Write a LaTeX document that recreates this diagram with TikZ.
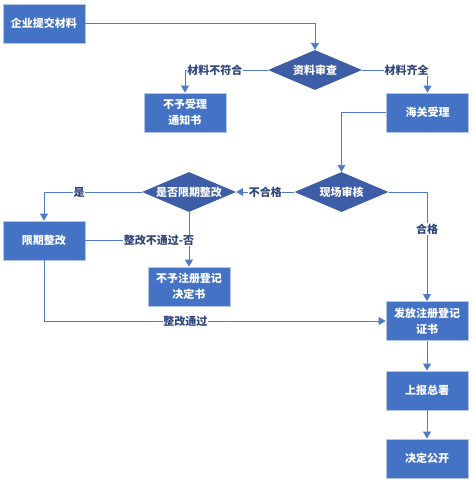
\documentclass[tikz,border=0pt]{standalone}
\usepackage{fontspec}
\setmainfont{Noto Sans CJK SC}
\usetikzlibrary{arrows.meta,shapes.geometric}
\definecolor{boxblue}{RGB}{68,114,196}
\definecolor{diablue}{RGB}{61,94,166}
\definecolor{edgeblue}{RGB}{180,199,231}
\definecolor{lineblue}{RGB}{79,122,199}
\definecolor{lblblue}{RGB}{47,70,122}
\tikzset{
    kasten/.style={
           rectangle,
           draw=edgeblue, fill=boxblue, line width=0.8pt,
           text=white, font=\fontsize{11}{16}\selectfont\bfseries,
           minimum width=82pt, minimum height=39pt,
           align=center, inner sep=2pt},
    raute/.style={
           diamond, aspect=2.35,
           fill=diablue, text=white,
           font=\fontsize{11}{16}\selectfont\bfseries,
           minimum width=94pt, minimum height=40pt, inner sep=0pt},
    linie/.style={draw=lineblue, line width=0.9pt},
    pfeil/.style={linie, -{Triangle[length=7pt,width=8pt]}},
    etikett/.style={fill=white, text=lblblue, inner sep=0.5pt,
           font=\fontsize{11}{13}\selectfont\bfseries}
    }
\begin{document}
\begin{tikzpicture}[x=1pt,y=-1pt]
      \useasboundingbox (0,0) rectangle (475,483);
      \node[kasten] (submit) at (44,23.5) {企业提交材料};
      \node[raute] (check) at (315,70) {资料审查};
      \node[kasten] (refuse) at (185,112.5) {不予受理\\通知书};
      \node[kasten] (accept) at (427.5,112.5) {海关受理};
      \node[raute] (site) at (341.5,192) {现场审核};
      \node[raute] (limit) at (189,192) {是否限期整改};
      \node[kasten] (fix) at (44,240.5) {限期整改};
      \node[kasten] (deny) at (189,286.5) {不予注册登记\\决定书};
      \node[kasten] (issue) at (427,321) {发放注册登记\\证书};
      \node[kasten] (report) at (427,390.5) {上报总署};
      \node[kasten] (public) at (427,458.5) {决定公开};
      \draw[pfeil] (submit.east) -| (check.north);
      \draw[pfeil] (check.west) -| node[etikett,pos=0.32] {材料不符合} (refuse.north);
      \draw[pfeil] (check.east) -| node[etikett,pos=0.34] {材料齐全} (accept.north);
      \draw[pfeil] (accept.west) -| (site.north);
      \draw[pfeil] (site.west) -- node[etikett] {不合格} (limit.east);
      \draw[pfeil] (site.east) -| node[etikett,pos=0.67] {合格} (issue.north);
      \draw[pfeil] (limit.west) -| node[etikett,pos=0.32] {是} (fix.north);
      \draw[pfeil] (limit.south) -- (deny.north);
      \draw[linie] (fix.east) -- node[etikett,pos=0.71] {整改不通过-否} (fix.east -| limit.south);
      \draw[pfeil] (fix.south) |- node[etikett,pos=0.707] {整改通过} (issue.west);
      \draw[pfeil] (issue) -- (report);
      \draw[pfeil] (report) -- (public);
\end{tikzpicture}
\end{document}
